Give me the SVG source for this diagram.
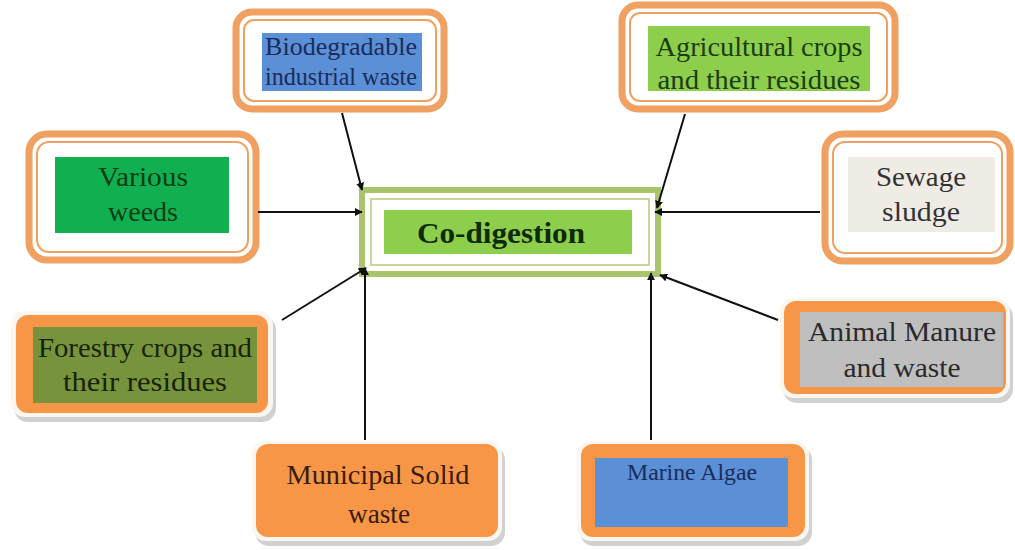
<svg xmlns="http://www.w3.org/2000/svg" width="1015" height="550" viewBox="0 0 1015 550">
<defs>
<style>
.dbl{fill:#fff;stroke:#F0A060;stroke-width:7}
.dbl2{fill:none;stroke:#F0A060;stroke-width:2}
.shd{fill:#9a9a9a;opacity:0.45}
.halo{fill:#fbf6ef}
.org{fill:#F79646}
.t{font-family:"Liberation Serif","Times New Roman",serif;text-anchor:middle}
.c{stroke:#111;stroke-width:2;fill:none;marker-end:url(#ah)}
</style>
<marker id="ah" viewBox="0 0 10 10" refX="9" refY="5" markerWidth="8" markerHeight="8" markerUnits="userSpaceOnUse" orient="auto"><path d="M0,0 L10,5 L0,10 z" fill="#111"/></marker>
</defs>
<rect width="1015" height="550" fill="#fff"/>

<g id="codigestion">
<rect x="362" y="190" width="296" height="84" fill="#fff" stroke="#A9C46A" stroke-width="6"/>
<rect x="371" y="199" width="278" height="66" fill="none" stroke="#C3D69B" stroke-width="2"/>
<rect x="384" y="210" width="248" height="44" fill="#8DCF4C"/>
<text class="t" x="501" y="243" font-size="30" font-weight="bold" fill="#0E2A08" textLength="168" lengthAdjust="spacingAndGlyphs">Co-digestion</text>
</g>

<g id="biodegradable">
<rect class="dbl" x="236" y="12" width="208" height="97" rx="16"/>
<rect class="dbl2" x="244" y="20" width="192" height="81" rx="10"/>
<rect x="262" y="33" width="160" height="58" fill="#5B8FD6"/>
<text class="t" x="341" y="55" font-size="25" fill="#1A2C5A" textLength="152" lengthAdjust="spacingAndGlyphs">Biodegradable</text>
<text class="t" x="341" y="85" font-size="25" fill="#1A2C5A" textLength="152" lengthAdjust="spacingAndGlyphs">industrial waste</text>
</g>

<g id="agricultural">
<rect class="dbl" x="622" y="5" width="273" height="104" rx="16"/>
<rect class="dbl2" x="630" y="13" width="257" height="88" rx="10"/>
<rect x="648" y="26" width="222" height="65" fill="#8DCF4C"/>
<text class="t" x="759" y="56" font-size="28" fill="#1C3D10" textLength="207" lengthAdjust="spacingAndGlyphs">Agricultural crops</text>
<text class="t" x="759" y="89" font-size="28" fill="#1C3D10" textLength="203" lengthAdjust="spacingAndGlyphs">and their residues</text>
</g>

<g id="weeds">
<rect class="dbl" x="29" y="134" width="227" height="126" rx="18"/>
<rect class="dbl2" x="37" y="142" width="211" height="110" rx="12"/>
<rect x="55" y="157" width="174" height="76" fill="#10B050"/>
<text class="t" x="143" y="186" font-size="28" fill="#0B3D16" textLength="90" lengthAdjust="spacingAndGlyphs">Various</text>
<text class="t" x="143" y="221" font-size="28" fill="#0B3D16" textLength="70" lengthAdjust="spacingAndGlyphs">weeds</text>
</g>

<g id="sewage">
<rect class="dbl" x="825" y="134" width="185" height="127" rx="18"/>
<rect class="dbl2" x="833" y="142" width="169" height="111" rx="12"/>
<rect x="848" y="157" width="147" height="75" fill="#EEECE4"/>
<text class="t" x="921" y="186" font-size="28" fill="#333" textLength="90" lengthAdjust="spacingAndGlyphs">Sewage</text>
<text class="t" x="921" y="221" font-size="28" fill="#333" textLength="78" lengthAdjust="spacingAndGlyphs">sludge</text>
</g>

<g id="forestry">
<rect class="shd" x="14" y="316" width="262" height="106" rx="14"/>
<rect class="halo" x="11" y="311" width="262" height="106" rx="14"/>
<rect class="org" x="16" y="315" width="252" height="98" rx="12"/>
<rect x="33" y="327" width="224" height="76" fill="#77933C"/>
<text class="t" x="145" y="357" font-size="28" fill="#16230A" textLength="214" lengthAdjust="spacingAndGlyphs">Forestry crops and</text>
<text class="t" x="145" y="391" font-size="28" fill="#16230A" textLength="164" lengthAdjust="spacingAndGlyphs">their  residues</text>
</g>

<g id="animal">
<rect class="shd" x="783" y="303" width="230" height="100" rx="14"/>
<rect class="halo" x="780" y="298" width="230" height="100" rx="14"/>
<rect class="org" x="784" y="301" width="222" height="93" rx="12"/>
<rect x="800" y="312" width="203" height="75" fill="#BFBFBF"/>
<text class="t" x="902" y="341" font-size="28" fill="#2a2a2a" textLength="188" lengthAdjust="spacingAndGlyphs">Animal Manure</text>
<text class="t" x="902" y="377" font-size="28" fill="#2a2a2a" textLength="117" lengthAdjust="spacingAndGlyphs">and waste</text>
</g>

<g id="municipal">
<rect class="shd" x="255" y="446" width="250" height="100" rx="14"/>
<rect class="halo" x="252" y="441" width="250" height="100" rx="14"/>
<rect class="org" x="256" y="444" width="242" height="93" rx="12"/>
<text class="t" x="378" y="484" font-size="28" fill="#3A1C0C" textLength="183" lengthAdjust="spacingAndGlyphs">Municipal Solid</text>
<text class="t" x="379" y="523" font-size="28" fill="#3A1C0C" textLength="62" lengthAdjust="spacingAndGlyphs">waste</text>
</g>

<g id="marine">
<rect class="shd" x="580" y="446" width="232" height="100" rx="14"/>
<rect class="halo" x="577" y="441" width="232" height="100" rx="14"/>
<rect class="org" x="581" y="444" width="224" height="93" rx="12"/>
<rect x="595" y="458" width="193" height="69" fill="#5B8FD6"/>
<text class="t" x="692" y="480" font-size="23" fill="#1A2C5A" textLength="130" lengthAdjust="spacingAndGlyphs">Marine Algae</text>
</g>

<g id="connectors">
<line class="c" x1="342" y1="113" x2="362" y2="190"/>
<line class="c" x1="685" y1="114" x2="657" y2="208"/>
<line class="c" x1="258" y1="212" x2="362" y2="212"/>
<line class="c" x1="820" y1="212" x2="655" y2="212"/>
<line class="c" x1="282" y1="320" x2="366" y2="268"/>
<line class="c" x1="365" y1="440" x2="365" y2="268"/>
<line class="c" x1="651" y1="440" x2="651" y2="273"/>
<line class="c" x1="778" y1="320" x2="660" y2="275"/>
</g>
</svg>
